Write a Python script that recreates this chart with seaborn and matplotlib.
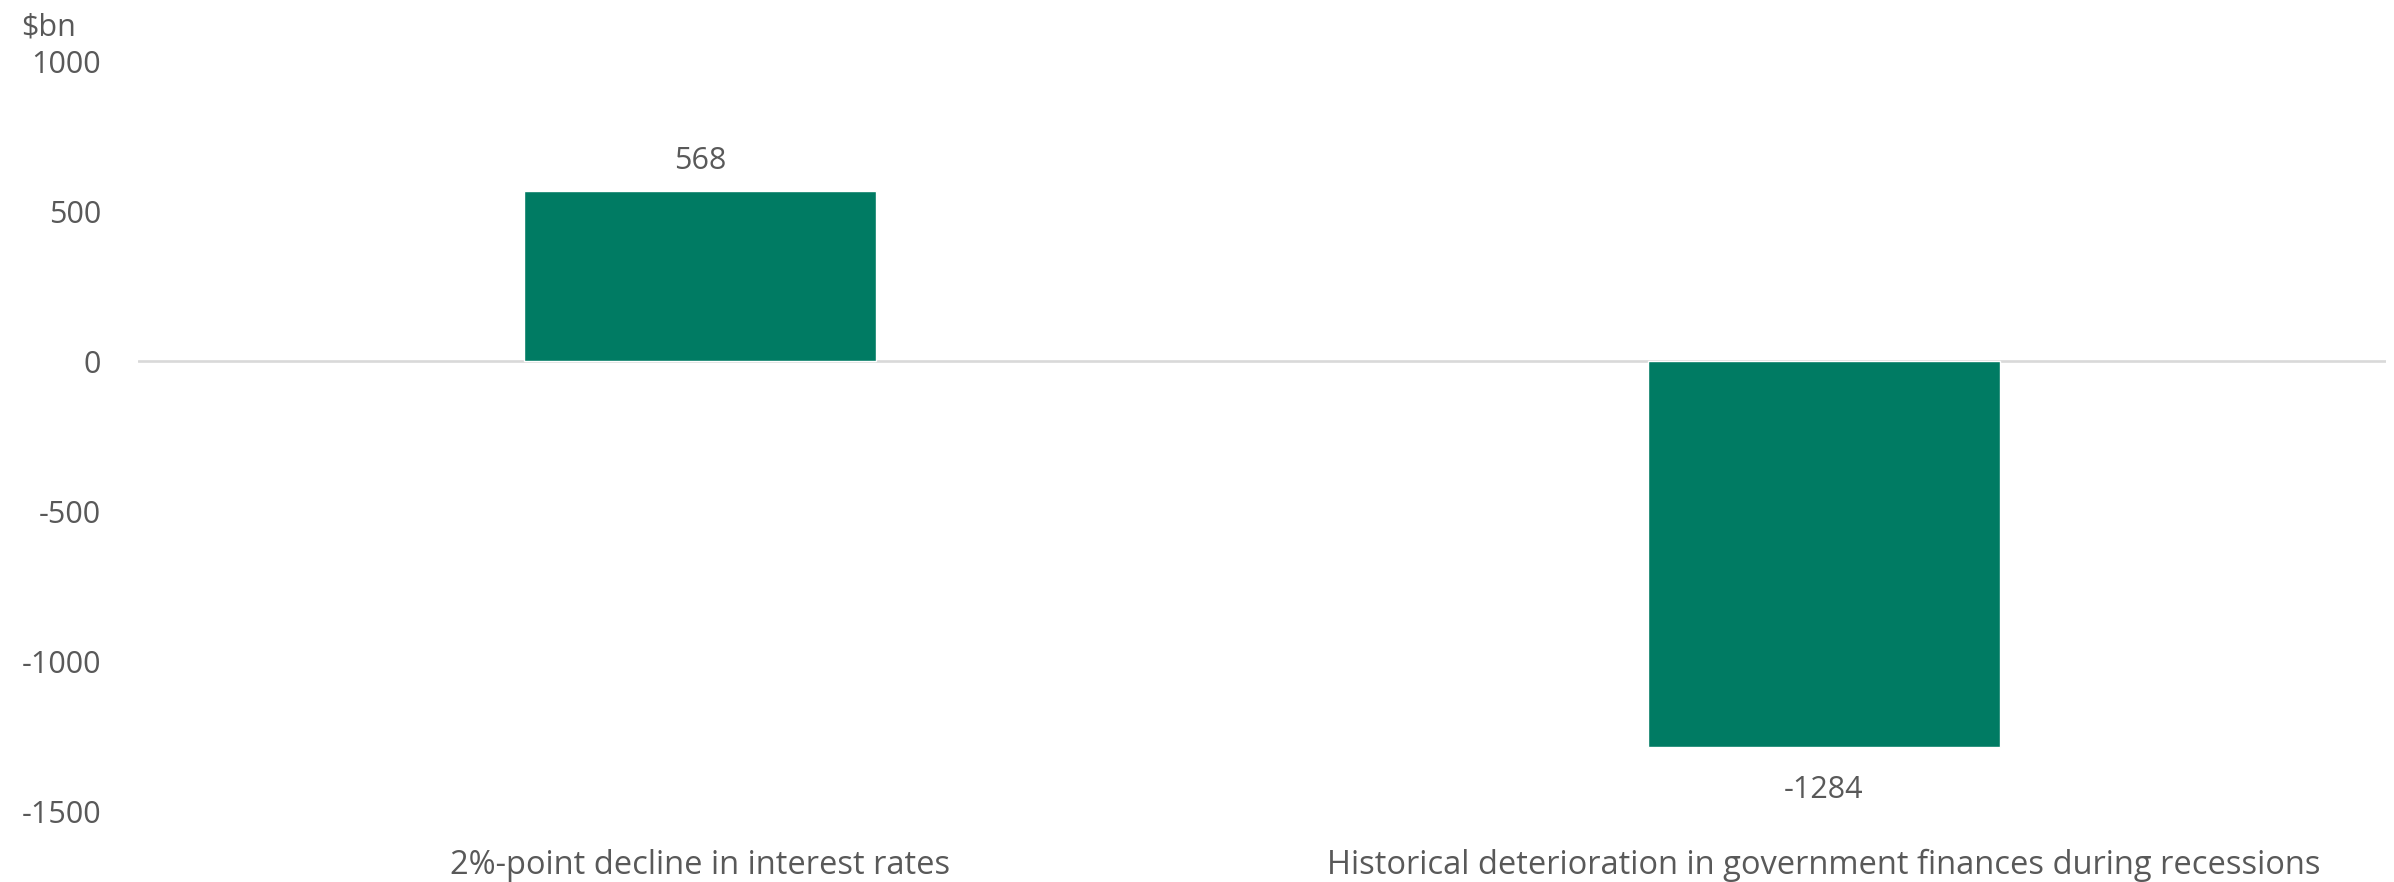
import matplotlib
matplotlib.use("Agg")
import matplotlib.pyplot as plt
import seaborn as sns
import pandas as pd

# Fiscal impact estimates, $bn
categories = [
    "2%-point decline in interest rates",
    "Historical deterioration in government finances during recessions",
]
values = [568, -1284]
value_labels = ["568", "-1284"]
y_ticks = [1000, 500, 0, -500, -1000, -1500]
y_unit = "$bn"

BAR_COLOR = "#007B63"
TEXT_COLOR = "#595959"
ZERO_LINE = "#D9D9D9"
FONT_SIZE = 22
CAT_FONT_SIZE = 23.5

sns.set_theme(style="white")
plt.rcParams["font.family"] = ["Open Sans", "DejaVu Sans"]

df = pd.DataFrame({"category": categories, "value": values})

fig = plt.figure(figsize=(23.94, 8.82), dpi=100)
ax = fig.add_axes([0.0576, 0.0799, 0.9391, 0.8504])

sns.barplot(data=df, x="category", y="value", color=BAR_COLOR,
            width=0.313, saturation=1, ax=ax)

ax.set_xlim(-0.5, len(categories) - 0.5)
ax.set_ylim(min(y_ticks), max(y_ticks))
ax.set_yticks(y_ticks)
ax.set_yticklabels([str(t) for t in y_ticks])
ax.axhline(0, color=ZERO_LINE, lw=1.9, zorder=0)

for s in ax.spines.values():
    s.set_visible(False)
ax.set_xlabel("")
ax.set_ylabel("")
ax.tick_params(axis="y", length=0, pad=26.5, labelsize=FONT_SIZE, labelcolor=TEXT_COLOR)
ax.tick_params(axis="x", length=0, pad=27, labelsize=CAT_FONT_SIZE, labelcolor=TEXT_COLOR)

for i, (v, lab) in enumerate(zip(values, value_labels)):
    off = 16 if v >= 0 else -36.7
    ax.annotate(lab, xy=(i, v), xytext=(0, off), textcoords="offset points",
                ha="center", va="baseline",
                fontsize=FONT_SIZE, color=TEXT_COLOR)

fig.text(21 / 2394, 1 - 12 / 882, y_unit, ha="left", va="top",
         fontsize=FONT_SIZE, color=TEXT_COLOR)

fig.savefig("out.png", dpi=100, facecolor="white")
